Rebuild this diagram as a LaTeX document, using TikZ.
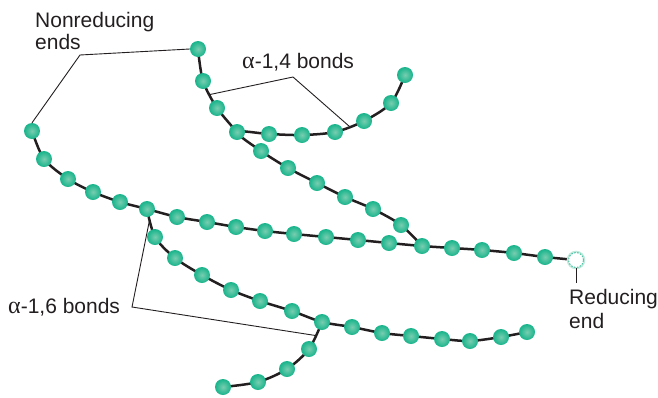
\documentclass[tikz,border=0pt]{standalone}
\usepackage{fontspec}
\setmainfont{Liberation Sans}
\newfontfamily\greekserif{Liberation Serif}
\usetikzlibrary{calc}
\definecolor{ink}{HTML}{231F20}
\definecolor{beaddark}{HTML}{06AC83}
\definecolor{beadmid}{HTML}{22B78F}
\definecolor{beadlight}{HTML}{78CDB0}
\definecolor{glow}{HTML}{BFE9DA}
\pgfdeclareradialshading{beadshade}{\pgfpoint{0bp}{0bp}}{color(0bp)=(beadlight); color(22bp)=(beadmid); color(40bp)=(beaddark); color(50bp)=(beaddark)}
\pgfdeclarelayer{background}
\pgfsetlayers{background,main}
\tikzset{
  bead/.style={circle, minimum size=16pt, inner sep=0pt, shading=beadshade},
  redend/.style={circle, minimum size=15pt, inner sep=0pt, fill=white, draw=beaddark!70, dashed, dash pattern=on 1.6pt off 1.4pt, line width=1pt},
  chain/.style={draw=ink, line width=2.5pt, line cap=round, line join=round},
  pointer/.style={draw=ink, line width=0.9pt, line join=miter},
  lbl/.style={font=\fontsize{21}{25}\selectfont, text=ink, inner sep=0pt, anchor=base west}
}
\newcommand{\alphachar}{{\greekserif\fontsize{24}{25}\selectfont α}}
\begin{document}
\begin{tikzpicture}[x=1pt, y=-1pt]
\useasboundingbox (0,0) rectangle (658,397);
\foreach \n/\p in {T1/{405,75}, T2/{391,103}, T3/{364,121}, T4/{335,132}, T5/{302,135}, T6/{269,134}, J/{237,132},
  D1/{261,151}, D2/{288,168}, D3/{317,183}, D4/{345,197}, D5/{373,209}, D6/{401,225},
  U1/{198,49}, U2/{203,81}, U3/{217,108},
  N1/{32,131}, N2/{44,159}, N3/{68,179}, N4/{93,192}, N5/{120,202}, B1/{147,209},
  m1/{177,217}, m2/{207,222}, m3/{236,227}, m4/{265,231}, m5/{294,234}, m6/{326,237}, m7/{358,240}, m8/{389,243},
  M/{422,246}, r1/{452,248}, r2/{482,250}, r3/{514,253}, r4/{545,257},
  L1/{155,237}, L2/{175,258}, L3/{202,275}, L4/{231,290}, L5/{260,301}, L6/{292,311}, B2/{322,322},
  L7/{352,327}, L8/{382,333}, L9/{411,336}, L10/{442,339}, L11/{470,341}, L12/{501,337}, L13/{527,332},
  Q1/{309,349}, Q2/{287,369}, Q3/{258,382}, Q4/{223,387}}
  {\node[bead] (\n) at (\p) {};}
% reducing end
\node[circle, minimum size=15pt, inner sep=0pt, draw=glow, line width=3.5pt] (Rglow) at (576,260) {};
\node[redend] (R) at (576,260) {};
% chains behind beads
\begin{pgfonlayer}{background}
\draw[chain] plot[smooth, tension=0.5] coordinates {(T1.center) (T2.center) (T3.center) (T4.center) (T5.center) (T6.center) (J.center) (D1.center) (D2.center) (D3.center) (D4.center) (D5.center) (D6.center) (M.center)};
\draw[chain] plot[smooth, tension=0.5] coordinates {(U1.center) (U2.center) (U3.center) (J.center)};
\draw[chain] plot[smooth, tension=0.5] coordinates {(N1.center) (N2.center) (N3.center) (N4.center) (N5.center) (B1.center) (m1.center) (m2.center) (m3.center) (m4.center) (m5.center) (m6.center) (m7.center) (m8.center) (M.center) (r1.center) (r2.center) (r3.center) (r4.center) (R.center)};
\draw[chain] plot[smooth, tension=0.5] coordinates {(B1.center) (L1.center) (L2.center) (L3.center) (L4.center) (L5.center) (L6.center) (B2.center) (L7.center) (L8.center) (L9.center) (L10.center) (L11.center) (L12.center) (L13.center)};
\draw[chain] plot[smooth, tension=0.5] coordinates {(B2.center) (Q1.center) (Q2.center) (Q3.center) (Q4.center)};
\end{pgfonlayer}
% labels
\node[lbl] (nonred1) at (35,27) {Nonreducing};
\node[lbl] (nonred2) at (35,49.3) {ends};
\node[lbl] (a14) at (242,68) {\alphachar-1,4 bonds};
\node[lbl] (a16) at (8,313) {\alphachar-1,6 bonds};
\node[lbl] (red1) at (569,304) {Reducing};
\node[lbl] (red2) at (569,328) {end};
% pointers
\coordinate (nrApex) at (80,55);
\coordinate (a14Apex) at (293,77);
\coordinate (a16Apex) at (132,307);
\draw[pointer] (N1.north) -- (nrApex) -- (U1.west);
\draw[pointer] ($(U2)!0.5!(U3)$) -- (a14Apex) -- ($(T4)!0.5!(T3)$);
\draw[pointer] ($(B1)!0.35!(L1)$) -- (a16Apex) -- ($(B2)!0.5!(Q1)$);
\draw[pointer] (R.south) -- ++(0,15);
\end{tikzpicture}
\end{document}
